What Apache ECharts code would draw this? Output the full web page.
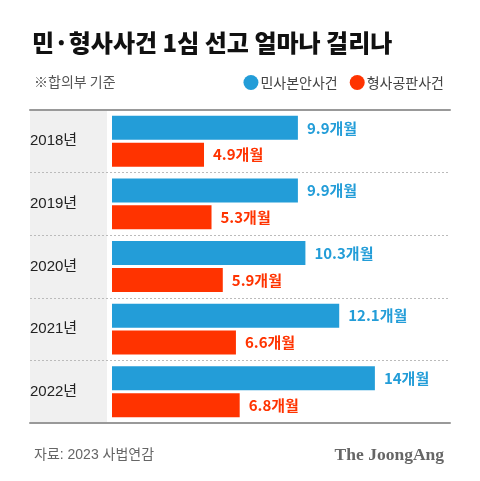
<!DOCTYPE html>
<html><head><meta charset="utf-8">
<script src="https://cdn.jsdelivr.net/npm/echarts@6/dist/echarts.min.js"></script>
<style>html,body{margin:0;padding:0;background:#fff}#c{width:480px;height:481px}</style>
</head><body><div id="c"></div>
<script>
const categories = ['2018년', '2019년', '2020년', '2021년', '2022년'];
const civil = [9.9, 9.9, 10.3, 12.1, 14];
const criminal = [4.9, 5.3, 5.9, 6.6, 6.8];
const seriesNames = ['민사본안사건', '형사공판사건'];
const BLUE = '#239dd8', RED = '#ff3300';
const font = '"Noto Sans CJK KR", "Noto Sans", sans-serif';
const fontMix = '"Liberation Sans", "Noto Sans CJK KR", sans-serif';

const chart = echarts.init(document.getElementById('c'), null, {renderer: 'canvas'});
chart.setOption({
  animation: false,
  backgroundColor: '#fff',
  textStyle: {fontFamily: font},
  title: [
    {text: '민·형사사건 1심 선고 얼마나 걸리나', left: 27, top: 26,
     textStyle: {fontSize: 24, fontWeight: 900, color: '#111', fontFamily: font}},
    {text: '※합의부 기준', left: 29, top: 70,
     textStyle: {fontSize: 14, fontWeight: 'normal', color: '#555', fontFamily: font}},
    {text: '자료: 2023 사법연감', left: 29, top: 443,
     textStyle: {fontSize: 14, fontWeight: 'normal', color: '#666', fontFamily: fontMix}},
    {text: 'The JoongAng', right: 31, top: 441,
     textStyle: {fontSize: 17.5, fontWeight: 'bold', color: '#666', fontFamily: '"Liberation Serif", "DejaVu Serif", serif'}}
  ],
  legend: {
    data: seriesNames, right: 31, top: 70, icon: 'circle',
    itemWidth: 15, itemHeight: 15, itemGap: 12,
    textStyle: {fontSize: 14, color: '#444', fontFamily: font, padding: [0, 0, 0, -3]}
  },
  grid: [
    {left: 112, right: 30, top: 110, bottom: 58},
    {left: 30, right: 30, top: 110, bottom: 58},
    {left: 30, right: 373, top: 110, bottom: 58, show: true, backgroundColor: '#f0f0f0', borderWidth: 0, z: -1}
  ],
  xAxis: [
    {gridIndex: 0, type: 'value', min: 0, max: 18, show: false},
    {gridIndex: 1, type: 'value', position: 'bottom', axisLine: {show: true, lineStyle: {color: '#999', width: 2}},
     axisLabel: {show: false}, axisTick: {show: false}, splitLine: {show: false}},
    {gridIndex: 1, type: 'value', position: 'top', axisLine: {show: true, lineStyle: {color: '#999', width: 2}},
     axisLabel: {show: false}, axisTick: {show: false}, splitLine: {show: false}},
    {gridIndex: 2, type: 'value', show: false}
  ],
  yAxis: [
    {gridIndex: 0, type: 'category', data: categories, inverse: true, show: false},
    {gridIndex: 1, type: 'category', data: categories, inverse: true,
     axisLine: {show: false}, axisTick: {show: false},
     axisLabel: {inside: true, margin: 0, align: 'left', fontSize: 15, color: '#222', fontFamily: fontMix},
     splitLine: {show: true, lineStyle: {color: '#bbb', type: [2, 2], width: 1}}},
    {gridIndex: 2, type: 'category', data: categories, show: false}
  ],
  series: [
    {name: seriesNames[0], type: 'bar', xAxisIndex: 0, yAxisIndex: 0, data: civil,
     barWidth: 24, barGap: '12%', itemStyle: {color: BLUE},
     label: {show: true, position: 'right', distance: 9, color: BLUE, fontSize: 15, fontWeight: 'bold',
             fontFamily: font, formatter: p => p.value + '개월'}},
    {name: seriesNames[1], type: 'bar', xAxisIndex: 0, yAxisIndex: 0, data: criminal,
     barWidth: 24, barGap: '12%', itemStyle: {color: RED},
     label: {show: true, position: 'right', distance: 9, color: RED, fontSize: 15, fontWeight: 'bold',
             fontFamily: font, formatter: p => p.value + '개월'}}
  ]
});
</script></body></html>
